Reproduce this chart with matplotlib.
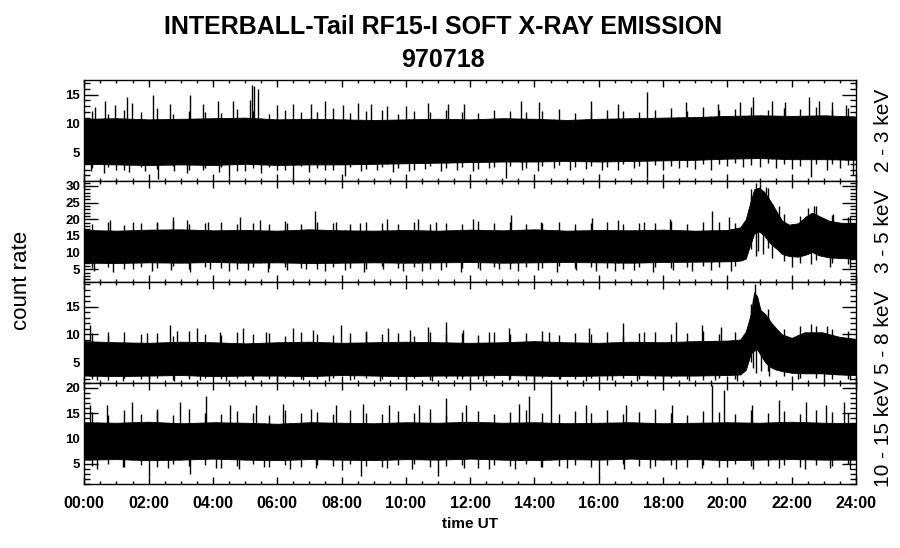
import numpy as np
import matplotlib.pyplot as plt
from matplotlib.ticker import MultipleLocator, FuncFormatter

plt.rcParams['font.family'] = ['Liberation Sans', 'DejaVu Sans']

# ---- band labels / axis ranges ----
bands = ['2 - 3 keV', '3 - 5 keV', '5 - 8 keV', '10 - 15 keV']
ylims = [(0.1, 17.6), (1.3, 31.6), (1.3, 19.5), (1.0, 21.0)]

hours = list(range(25))
half_hours = np.arange(0.25, 24, 0.5)   # sample times of the ragged edge values

# ---- 2 - 3 keV: envelope of the dense band + spikes ----
t1 = hours
hi1 = [10.8, 10.9, 10.7, 10.8, 10.9, 11.0, 10.7, 10.8, 10.7, 10.6, 10.7, 10.8, 10.7,
       10.9, 10.8, 10.6, 10.8, 10.9, 11.0, 11.1, 11.3, 11.4, 11.3, 11.4, 11.2]
lo1 = [3.0, 2.9, 2.8, 2.9, 2.8, 3.0, 2.8, 2.9, 2.9, 3.0, 3.1, 3.2, 3.3,
       3.4, 3.4, 3.5, 3.4, 3.5, 3.6, 3.7, 3.9, 4.0, 3.8, 3.8, 3.7]
edge_up1 = [12.1, 11.6, 12.4, 11.9, 12.6, 11.7, 12.2, 12.0, 11.8, 12.5, 12.2, 11.7,
            12.3, 11.9, 12.0, 12.6, 11.8, 12.1, 12.4, 11.7, 12.2, 11.9, 12.3, 12.0,
            11.8, 12.4, 12.1, 11.9, 12.2, 12.5, 11.8, 12.0, 12.3, 12.1, 11.9, 12.4,
            12.6, 12.2, 12.8, 12.3, 12.5, 12.9, 12.4, 12.7, 12.5, 12.8, 12.3, 12.6]
edge_dn1 = [2.2, 2.5, 1.9, 2.4, 2.1, 2.6, 2.0, 2.3, 2.5, 1.8, 2.2, 2.4,
            2.0, 2.6, 2.3, 1.9, 2.4, 2.1, 2.5, 2.2, 2.0, 2.6, 2.3, 2.4,
            2.1, 2.5, 2.7, 2.3, 2.6, 2.8, 2.4, 2.7, 2.5, 2.9, 2.6, 2.8,
            2.7, 2.5, 2.9, 3.0, 3.1, 2.8, 3.2, 3.0, 2.7, 2.9, 3.0, 2.8]
up1_t = [0.33, 0.64, 0.95, 1.32, 1.47, 2.14, 2.66, 3.3, 3.7, 4.16, 4.63, 5.15, 5.22, 5.27,
         5.4, 6.0, 6.5, 7.06, 7.48, 8.04, 8.5, 8.93, 9.4, 10.0, 10.7, 11.3, 11.8, 13.58,
         14.15, 15.76, 16.6, 17.5, 18.7, 19.7, 20.4, 20.8, 21.4, 21.8, 22.55, 22.85, 23.25, 23.7]
up1_v = [12.8, 13.9, 13.1, 14.6, 13.5, 15.0, 13.4, 15.0, 13.4, 13.9, 13.9, 14.0, 16.6, 16.4,
         16.0, 13.1, 13.4, 13.4, 13.9, 13.1, 13.5, 13.4, 13.0, 13.0, 13.5, 13.4, 13.4, 13.9,
         13.7, 13.9, 13.4, 15.4, 13.7, 13.4, 13.7, 14.5, 13.9, 13.7, 14.6, 13.9, 13.7, 13.1]
dn1_t = [0.2, 0.6, 1.0, 1.4, 1.9, 2.3, 2.8, 3.2, 3.7, 4.2, 4.5, 5.0, 5.5, 6.0, 6.5, 7.0,
         7.5, 8.1, 8.6, 9.1, 9.6, 10.1, 10.6, 11.1, 11.6, 12.1, 12.6, 13.1, 13.6, 14.1,
         14.6, 15.1, 15.6, 16.1, 16.6, 17.1, 17.5, 18.0, 18.5, 19.0, 19.5, 20.0, 20.5,
         21.0, 21.5, 22.0, 22.6, 23.1, 23.5, 23.9]
dn1_v = [1.8, 1.5, 2.0, 1.6, 1.8, 0.4, 1.7, 1.5, 2.0, 1.6, 0.6, 1.8, 1.5, 1.9, 0.4, 1.6,
         1.9, 0.9, 1.7, 2.0, 1.6, 1.8, 2.1, 1.7, 2.0, 1.8, 2.2, 0.5, 2.0, 1.8,
         2.3, 1.9, 2.1, 2.0, 1.9, 2.2, 0.6, 2.0, 2.3, 2.1, 2.0, 2.6, 2.4,
         2.5, 2.2, 2.1, 0.8, 2.0, 2.2, 1.0]

# ---- 3 - 5 keV ----
t2 = hours[:21] + [20.4, 20.57, 20.67, 20.83, 20.98, 21.14, 21.3, 21.4, 21.55, 21.7,
                   21.92, 22.2, 22.43, 22.64, 22.85, 23.16, 23.5, 24]
hi2 = [16.8, 16.6, 16.9, 17.0, 16.7, 16.8, 16.6, 17.0, 16.7, 16.6, 16.8, 16.6, 16.9,
       16.7, 17.0, 16.6, 16.8, 16.7, 16.9, 16.6, 16.8,
       17.6, 20.0, 23.5, 29.0, 29.5, 28.3, 26.0, 24.5, 22.0, 19.6,
       18.4, 18.8, 20.8, 22.0, 21.0, 19.6, 19.0, 18.8]
lo2 = [7.0, 6.9, 7.1, 7.0, 7.2, 7.0, 7.1, 6.9, 7.0, 7.1, 7.0, 7.1, 7.2,
       7.0, 7.1, 7.2, 7.1, 7.0, 7.2, 7.3, 7.4,
       7.6, 8.2, 11.2, 15.7, 16.4, 15.2, 13.2, 12.2, 11.0, 9.6,
       9.0, 8.8, 9.4, 10.2, 9.2, 8.6, 8.4, 8.2]
edge_up2 = [18.6, 19.2, 18.4, 19.0, 18.8, 19.5, 18.5, 18.9, 19.3, 18.6, 19.0, 18.7,
            19.4, 18.5, 19.1, 18.8, 18.6, 19.3, 18.9, 18.5, 19.2, 18.7, 19.0, 18.6,
            19.4, 18.8, 19.1, 18.5, 19.0, 19.3, 18.7, 18.9, 19.2, 18.6, 19.0, 18.8,
            19.5, 18.7, 19.1, 19.3, 19.0, 29.0, 29.5, 21.5, 21.0, 24.0, 21.2, 20.8]
edge_dn2 = [5.4, 5.8, 5.1, 5.6, 5.3, 5.9, 5.2, 5.7, 5.5, 5.0, 5.6, 5.3,
            5.8, 5.4, 5.1, 5.7, 5.5, 5.2, 5.9, 5.4, 5.6, 5.1, 5.8, 5.3,
            5.5, 5.7, 5.2, 5.6, 5.4, 5.9, 5.3, 5.7, 5.5, 5.1, 5.6, 5.8,
            5.4, 5.7, 5.9, 5.6, 6.0, 11.0, 11.5, 7.5, 7.0, 7.8, 6.8, 6.5]
up2_t = [0.8, 1.53, 2.25, 2.76, 3.18, 3.85, 4.83, 5.45, 6.29, 7.16, 7.84, 8.56, 9.4,
         10.37, 10.94, 12.08, 13.27, 14.2, 15.8, 16.6, 17.4, 18.2, 19.53, 20.05,
         20.9, 21.0, 21.2, 21.6, 22.5, 22.7, 23.3, 23.8]
up2_v = [19.8, 19.2, 19.2, 20.8, 19.8, 19.2, 20.8, 19.8, 18.8, 22.5, 19.2, 18.8, 20.2,
         20.2, 19.2, 20.2, 21.4, 19.2, 20.4, 19.8, 19.2, 20.2, 22.5, 20.8,
         31.0, 30.6, 29.6, 24.0, 23.5, 24.0, 21.5, 21.0]
dn2_t = [0.3, 0.9, 1.5, 2.1, 2.7, 3.3, 3.9, 4.5, 5.1, 5.7, 6.3, 6.9, 7.5, 8.1, 8.7,
         9.3, 9.9, 10.5, 11.1, 11.7, 12.3, 12.9, 13.5, 14.1, 14.7, 15.3, 15.9, 16.5,
         17.1, 17.7, 18.3, 18.9, 19.5, 20.1, 20.88, 20.95, 21.1, 21.4, 22.0, 22.6,
         23.2, 23.8]
dn2_v = [4.6, 4.2, 5.0, 4.4, 4.8, 4.3, 5.1, 4.5, 4.9, 4.2, 4.7, 5.0, 4.4, 4.8, 4.3,
         5.0, 4.6, 4.4, 4.9, 4.2, 4.7, 5.0, 4.5, 4.8, 4.3, 4.9, 4.6, 4.4,
         4.8, 4.2, 4.7, 4.5, 4.9, 4.6, 9.0, 10.5, 9.5, 8.5, 5.6, 6.5,
         5.8, 5.5]

# ---- 5 - 8 keV ----
t3 = hours[:21] + [20.4, 20.57, 20.73, 20.83, 20.93, 21.03, 21.19, 21.35, 21.5, 21.7,
                   22.0, 22.4, 22.95, 23.47, 24]
hi3 = [8.8, 8.6, 8.5, 8.7, 8.6, 8.4, 8.6, 8.7, 8.5, 8.6, 8.7, 8.6, 8.5,
       8.6, 8.8, 8.6, 8.5, 8.7, 8.6, 8.8, 8.9,
       9.1, 10.5, 13.7, 17.6, 16.8, 14.4, 13.6, 12.2, 11.2, 10.0,
       9.4, 10.4, 10.4, 9.6, 9.2]
lo3 = [2.6, 2.5, 2.6, 2.7, 2.5, 2.6, 2.6, 2.5, 2.7, 2.6, 2.5, 2.6, 2.6,
       2.7, 2.6, 2.5, 2.6, 2.7, 2.6, 2.6, 2.7,
       2.8, 3.6, 6.6, 7.1, 7.3, 6.3, 4.9, 4.1, 3.7, 3.4,
       3.1, 3.0, 3.0, 2.8, 2.7]
edge_up3 = [10.2, 9.8, 10.5, 10.0, 10.3, 9.7, 10.6, 10.1, 9.9, 10.4, 10.0, 10.2,
            9.8, 10.5, 10.1, 9.9, 10.3, 10.6, 10.0, 10.2, 9.8, 10.4, 10.1, 10.3,
            9.9, 10.5, 10.0, 10.2, 10.6, 9.9, 10.3, 10.1, 10.4, 9.8, 10.2, 10.5,
            10.0, 10.3, 10.6, 10.1, 10.4, 15.5, 14.5, 11.0, 11.5, 11.6, 11.0, 10.6]
edge_dn3 = [2.0, 1.8, 2.1, 1.9, 2.2, 1.8, 2.0, 2.1, 1.9, 2.2, 1.8, 2.0,
            2.1, 1.9, 2.0, 2.2, 1.8, 2.1, 1.9, 2.0, 2.2, 1.8, 2.1, 2.0,
            1.9, 2.2, 2.0, 1.8, 2.1, 1.9, 2.0, 2.2, 1.8, 2.1, 2.0, 1.9,
            2.2, 2.0, 1.8, 2.1, 2.0, 5.0, 3.5, 2.6, 2.2, 2.1, 2.0, 1.9]
up3_t = [0.18, 0.75, 1.94, 2.66, 2.87, 3.49, 4.21, 4.94, 5.66, 6.49, 7.11, 7.99, 8.77,
         9.44, 10.12, 10.68, 11.25, 11.77, 12.6, 13.2, 14.46, 15.7, 16.74, 17.41,
         18.4, 19.22, 19.8, 20.85, 22.6, 23.1]
up3_v = [11.7, 10.5, 10.2, 11.7, 10.6, 11.1, 10.5, 11.1, 10.5, 11.1, 10.8, 11.7, 10.5,
         11.1, 10.8, 11.4, 12.3, 10.8, 10.5, 11.1, 10.5, 11.1, 12.0, 10.5,
         12.3, 11.7, 11.4, 19.0, 11.8, 11.5]
dn3_t = [0.4, 1.2, 2.0, 2.8, 3.6, 4.4, 5.2, 6.0, 6.8, 7.6, 8.4, 9.2, 10.0, 10.8, 11.6,
         12.4, 13.2, 14.0, 14.8, 15.6, 16.4, 17.2, 18.0, 18.8, 19.6, 20.3,
         20.8, 20.9, 21.05, 21.3, 22.2, 23.0, 23.8]
dn3_v = [1.8, 1.7, 1.9, 1.6, 1.8, 1.7, 1.9, 1.6, 1.8, 1.7, 1.9, 1.6, 1.8, 1.7, 1.9,
         1.6, 1.8, 1.7, 1.9, 1.6, 1.8, 1.7, 1.9, 1.6, 1.8, 1.7,
         4.0, 3.0, 3.5, 2.5, 1.9, 1.7, 1.8]

# ---- 10 - 15 keV ----
t4 = hours
hi4 = [13.2, 13.1, 13.3, 13.0, 13.2, 13.1, 12.9, 13.2, 13.1, 13.0, 13.2, 13.1, 13.3,
       13.1, 13.2, 13.0, 13.1, 13.2, 13.0, 13.1, 13.2, 13.1, 13.3, 13.1, 13.0]
lo4 = [5.8, 5.9, 5.7, 5.8, 6.0, 5.8, 5.7, 5.9, 5.8, 5.7, 5.9, 5.8, 6.0,
       5.8, 5.7, 5.9, 5.8, 6.0, 5.8, 5.9, 5.7, 5.8, 5.9, 5.8, 5.8]
edge_up4 = [15.2, 14.6, 15.6, 14.9, 15.4, 14.7, 15.8, 15.0, 14.8, 15.5, 15.1, 14.6,
            15.7, 15.0, 15.3, 14.8, 15.6, 15.1, 14.9, 15.4, 15.0, 15.8, 14.7, 15.2,
            15.5, 14.9, 15.3, 15.7, 15.0, 14.8, 15.4, 15.1, 15.6, 14.9, 15.2, 15.8,
            15.0, 14.7, 15.5, 15.3, 14.9, 15.6, 15.1, 15.4, 14.8, 15.7, 15.2, 15.0]
edge_dn4 = [4.6, 4.9, 4.3, 4.7, 4.4, 5.0, 4.5, 4.8, 4.2, 4.6, 4.9, 4.4,
            4.7, 4.3, 4.8, 4.5, 5.0, 4.6, 4.3, 4.7, 4.9, 4.4, 4.6, 4.8,
            4.2, 4.7, 4.5, 4.9, 4.4, 4.6, 4.8, 4.3, 4.7, 5.0, 4.5, 4.6,
            4.8, 4.4, 4.7, 4.3, 4.9, 4.5, 4.6, 4.8, 4.4, 4.7, 4.5, 4.9]
up4_t = [0.18, 0.7, 1.47, 2.25, 2.97, 3.8, 4.52, 5.35, 6.18, 7.06, 7.84, 8.66, 9.49,
         10.42, 11.25, 11.87, 13.53, 13.84, 14.5, 15.6, 16.84, 18.29, 19.53, 19.9,
         20.78, 21.6, 22.43, 23.06, 23.62]
up4_v = [16.6, 16.6, 17.3, 15.9, 17.3, 18.3, 16.6, 16.6, 16.9, 15.9, 16.6, 16.9, 16.6,
         16.6, 18.0, 16.6, 16.9, 18.3, 20.3, 16.6, 16.6, 16.6, 20.6, 19.6,
         16.6, 17.6, 17.3, 16.6, 17.3]
dn4_t = [0.4, 1.2, 2.0, 2.6, 3.3, 4.1, 4.8, 5.6, 6.4, 7.2, 8.0, 8.6, 9.4, 10.2, 11.0,
         11.8, 12.6, 13.4, 14.2, 15.0, 16.0, 16.8, 17.6, 18.4, 19.2, 20.0, 20.8,
         21.6, 22.4, 23.2, 23.8]
dn4_v = [4.0, 4.3, 2.4, 4.1, 3.0, 4.2, 3.9, 4.3, 4.0, 4.2, 3.8, 2.5, 4.1, 4.0, 2.6,
         4.2, 4.0, 3.9, 4.3, 4.1, 2.2, 4.0, 4.2, 3.9, 4.1, 4.3, 4.0,
         4.2, 3.9, 4.1, 4.0]

panels = [(t1, hi1, lo1, edge_up1, edge_dn1, up1_t, up1_v, dn1_t, dn1_v),
          (t2, hi2, lo2, edge_up2, edge_dn2, up2_t, up2_v, dn2_t, dn2_v),
          (t3, hi3, lo3, edge_up3, edge_dn3, up3_t, up3_v, dn3_t, dn3_v),
          (t4, hi4, lo4, edge_up4, edge_dn4, up4_t, up4_v, dn4_t, dn4_v)]

fig = plt.figure(figsize=(9, 5.48), dpi=100)
W, H = 900.0, 548.0
x0, x1 = 84.3, 856.0
ytop, ph = 79.5, 101.1

for k, (t, hi, lo, eu, ed, ut, uv, dt, dv) in enumerate(panels):
    bottom = 1 - (ytop + ph * (k + 1)) / H
    ax = fig.add_axes([x0 / W, bottom, (x1 - x0) / W, ph / H])
    ax.fill_between(t, lo, hi, color='black', lw=0.6)
    # ragged edges of the band
    ax.vlines(half_hours, np.interp(half_hours, t, lo), eu, color='black', lw=1.0)
    ax.vlines(half_hours, ed, np.interp(half_hours, t, hi), color='black', lw=1.0)
    # isolated spikes
    ax.vlines(ut, np.interp(ut, t, lo), uv, color='black', lw=1.0)
    ax.vlines(dt, dv, np.interp(dt, t, hi), color='black', lw=1.0)

    ax.set_xlim(0, 24)
    ax.set_ylim(*ylims[k])
    ax.xaxis.set_major_locator(MultipleLocator(2))
    ax.xaxis.set_minor_locator(MultipleLocator(0.5))
    ax.yaxis.set_major_locator(MultipleLocator(5))
    ax.yaxis.set_minor_locator(MultipleLocator(1))
    ax.tick_params(which='both', direction='in', top=True, right=True,
                   width=1, color='black')
    ax.tick_params(axis='x', which='major', length=5)
    ax.tick_params(axis='x', which='minor', length=2.5)
    ax.tick_params(axis='y', which='major', length=10, labelsize=9.5, pad=3)
    ax.tick_params(axis='y', which='minor', length=4)
    for lab in ax.get_yticklabels():
        lab.set_fontweight('bold')
    for s in ax.spines.values():
        s.set_linewidth(1)
    ax.text(1.035, 0.5, bands[k], transform=ax.transAxes, rotation=90,
            ha='center', va='center', fontsize=15)
    if k < 3:
        ax.tick_params(axis='x', labelbottom=False)
    else:
        ax.xaxis.set_major_formatter(FuncFormatter(lambda v, p: '%02d:00' % int(round(v))))
        ax.tick_params(axis='x', labelsize=11.5, pad=9)
        for lab in ax.get_xticklabels():
            lab.set_fontweight('bold')
        ax.set_xlabel('time UT', fontsize=11, fontweight='bold', labelpad=4)

fig.text(443 / W, 1 - 27 / H, 'INTERBALL-Tail RF15-I SOFT X-RAY EMISSION',
         ha='center', va='center', fontsize=18, fontweight='bold')
fig.text(443 / W, 1 - 60 / H, '970718', ha='center', va='center',
         fontsize=18, fontweight='bold')
fig.text(22 / W, 1 - 280 / H, 'count rate', rotation=90, ha='center', va='center',
         fontsize=16)

fig.savefig('out.png', dpi=100)
